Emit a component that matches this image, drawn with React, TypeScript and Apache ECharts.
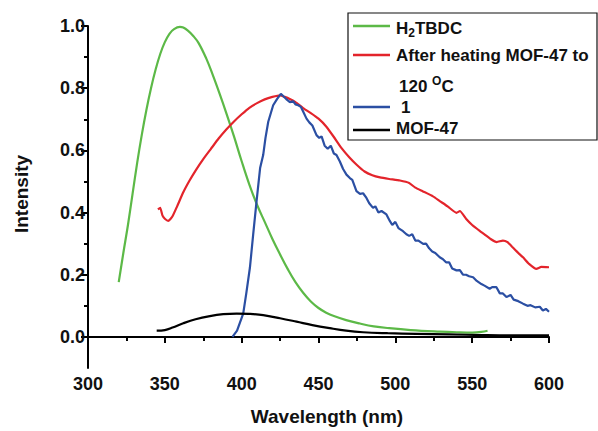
import React, { useEffect, useRef } from "react";
import * as echarts from "echarts";

const greenX = [320, 323, 326, 329, 332, 335, 338, 341, 344, 347, 350, 353, 356, 359.8, 362, 365, 368.5, 372, 377, 381, 385.8, 390, 395, 400, 405, 410, 415, 420, 425, 430, 435, 440, 445, 450, 455, 460, 468, 477, 486, 496, 510, 529, 540, 550, 556, 560];
const greenY = [0.176, 0.27, 0.36, 0.46, 0.56, 0.65, 0.73, 0.8, 0.86, 0.91, 0.948, 0.975, 0.99, 0.997, 0.995, 0.985, 0.968, 0.945, 0.895, 0.845, 0.78, 0.72, 0.645, 0.565, 0.49, 0.425, 0.37, 0.315, 0.265, 0.218, 0.176, 0.142, 0.114, 0.093, 0.078, 0.067, 0.054, 0.043, 0.034, 0.028, 0.022, 0.017, 0.015, 0.014, 0.016, 0.02];

const redX = [345.5, 347, 348.5, 350, 352.2, 355, 358, 362, 366, 370, 375, 380, 385, 390, 395, 400, 405, 410, 415, 420, 425, 428, 431, 435, 440, 445, 450, 455, 460, 465, 470, 475, 480, 485, 490, 496, 503, 509, 513, 518, 524.5, 528.9, 534, 539.8, 542, 546, 550, 554.9, 558, 562, 566, 570, 573, 576, 580, 583.1, 587, 591.8, 595, 600];
const redY = [0.41, 0.415, 0.39, 0.38, 0.373, 0.388, 0.42, 0.465, 0.502, 0.535, 0.572, 0.605, 0.638, 0.667, 0.693, 0.716, 0.737, 0.752, 0.764, 0.772, 0.777, 0.772, 0.766, 0.755, 0.736, 0.72, 0.702, 0.677, 0.643, 0.607, 0.578, 0.553, 0.532, 0.52, 0.513, 0.508, 0.503, 0.495, 0.48, 0.468, 0.452, 0.437, 0.42, 0.399, 0.405, 0.38, 0.36, 0.341, 0.33, 0.315, 0.305, 0.31, 0.305, 0.29, 0.27, 0.256, 0.235, 0.219, 0.225, 0.224];

const blueX = [394, 397, 401, 403, 405.4, 407.5, 409.7, 412, 414, 415.5, 417.3, 420.5, 423, 425.5, 427, 429, 431.4, 433.5, 435, 436.8, 438.5, 440, 442.2, 444, 446, 448.7, 450.5, 452, 454, 456, 458, 460, 461.7, 463.9, 466, 468.2, 470.4, 472, 474.7, 477, 479, 481.2, 483, 485.5, 487, 489, 491, 494.2, 496.4, 498, 500, 502, 505, 507.2, 509, 511, 513, 515, 518.1, 520, 522, 524, 526, 528.9, 531, 533, 535, 537, 539.8, 542, 544, 546, 548, 550.6, 553, 556, 558, 561.4, 563, 565.8, 568, 570, 572.3, 575, 577, 580, 583.1, 586, 588, 591, 594, 596, 598, 600];
const blueY = [0.0, 0.02, 0.075, 0.14, 0.224, 0.33, 0.437, 0.543, 0.585, 0.64, 0.692, 0.745, 0.765, 0.782, 0.775, 0.765, 0.755, 0.758, 0.748, 0.745, 0.74, 0.725, 0.702, 0.69, 0.68, 0.649, 0.64, 0.645, 0.615, 0.605, 0.615, 0.59, 0.585, 0.564, 0.54, 0.522, 0.511, 0.505, 0.469, 0.46, 0.462, 0.447, 0.43, 0.415, 0.42, 0.4, 0.405, 0.394, 0.373, 0.36, 0.37, 0.35, 0.34, 0.33, 0.325, 0.33, 0.31, 0.31, 0.299, 0.3, 0.285, 0.275, 0.27, 0.256, 0.25, 0.24, 0.24, 0.22, 0.214, 0.215, 0.2, 0.2, 0.195, 0.192, 0.18, 0.17, 0.165, 0.155, 0.16, 0.16, 0.14, 0.14, 0.128, 0.135, 0.12, 0.115, 0.107, 0.1, 0.102, 0.095, 0.097, 0.085, 0.09, 0.081];

const blackX = [344.7, 350, 355, 362, 370, 379.3, 388, 396.7, 405, 414, 425, 435.7, 446, 457.4, 468, 479, 495, 513.7, 535, 557, 580, 600];
const blackY = [0.02, 0.022, 0.03, 0.044, 0.057, 0.067, 0.073, 0.075, 0.074, 0.07, 0.06, 0.049, 0.038, 0.028, 0.02, 0.015, 0.012, 0.01, 0.008, 0.006, 0.005, 0.005];

const yLabelValues = [0, 0.2, 0.4, 0.6, 0.8, 1.0];
const yMinorValues = [0.1, 0.3, 0.5, 0.7, 0.9];

const seriesNames = ["H2TBDC", "After heating MOF-47 to 120 °C", "1", "MOF-47"];
const colors = ["#5cb947", "#e3242b", "#2b4fa3", "#000000"];
const smoothing = [0.4, 0.15, false, 0.4];

const zip = (xs: number[], ys: number[]) => xs.map((x, i) => [x, ys[i]]);

const FONT = "'Liberation Sans', Arial, sans-serif";

export default function App() {
  const ref = useRef<HTMLDivElement>(null);
  useEffect(() => {
    if (!ref.current) return;
    const chart = echarts.init(ref.current, undefined, { renderer: "svg" });
    const data = [zip(greenX, greenY), zip(redX, redY), zip(blueX, blueY), zip(blackX, blackY)];
    const legendRows = [
      { y: 26, color: colors[0] },
      { y: 55, color: colors[1] },
      { y: 107, color: colors[2] },
      { y: 130, color: colors[3] },
    ];
    const textStyleBase = { fontFamily: FONT, fontWeight: "bold" as const, fontSize: 17, fill: "#111" };
    chart.setOption({
      animation: false,
      backgroundColor: "#fff",
      grid: { left: 88, right: 49, top: 26, bottom: 63 },
      xAxis: {
        type: "value",
        min: 300,
        max: 600,
        interval: 50,
        axisLine: { lineStyle: { color: "#000", width: 2 } },
        axisTick: { length: 6, lineStyle: { color: "#000", width: 2 } },
        minorTick: { show: true, splitNumber: 2, length: 4, lineStyle: { color: "#000", width: 2 } },
        splitLine: { show: false },
        axisLabel: { color: "#111", fontFamily: FONT, fontWeight: "bold", fontSize: 18, margin: 7 },
      },
      yAxis: [
        {
          type: "value",
          min: -0.1,
          max: 1.0,
          axisLine: { show: true, lineStyle: { color: "#000", width: 2 } },
          axisTick: { show: true, length: 7, customValues: yLabelValues, lineStyle: { color: "#000", width: 2 } },
          splitLine: { show: false },
          axisLabel: {
            customValues: yLabelValues,
            color: "#111",
            fontFamily: FONT,
            fontWeight: "bold",
            fontSize: 18,
            margin: 3,
            formatter: (v: number) => v.toFixed(1),
          },
        },
        {
          type: "value",
          min: -0.1,
          max: 1.0,
          position: "left",
          axisLine: { show: false },
          axisTick: { show: true, length: 4, customValues: yMinorValues, lineStyle: { color: "#000", width: 2 } },
          axisLabel: { show: false },
          splitLine: { show: false },
        },
      ],
      series: data.map((d, i) => ({
        name: seriesNames[i],
        type: "line",
        data: d,
        showSymbol: false,
        smooth: smoothing[i],
        lineStyle: { color: colors[i], width: 2.2 },
        itemStyle: { color: colors[i] },
        z: 2,
      })),
      graphic: [
        {
          type: "text",
          x: 327,
          y: 416,
          style: { ...textStyleBase, fontSize: 19, text: "Wavelength (nm)", align: "center", verticalAlign: "middle" },
        },
        {
          type: "text",
          x: 21,
          y: 194,
          rotation: Math.PI / 2,
          style: { ...textStyleBase, fontSize: 19, text: "Intensity", align: "center", verticalAlign: "middle" },
        },
        {
          type: "rect",
          shape: { x: 348, y: 13, width: 249, height: 127 },
          style: { fill: "#fff", stroke: "#111", lineWidth: 1.2 },
          z: 10,
        },
        ...legendRows.map((r) => ({
          type: "line",
          shape: { x1: 353, y1: r.y, x2: 390, y2: r.y },
          style: { stroke: r.color, lineWidth: 2.5 },
          z: 11,
        })),
        {
          type: "text",
          x: 396,
          y: 28,
          z: 11,
          style: {
            text: "{n|H}{s|2}{n|TBDC}",
            verticalAlign: "middle",
            rich: {
              n: { ...textStyleBase },
              s: { ...textStyleBase, fontSize: 12, padding: [10, 0, 0, 0] },
            },
          },
        },
        {
          type: "text",
          x: 396,
          y: 55,
          z: 11,
          style: { ...textStyleBase, text: "After heating MOF-47 to", verticalAlign: "middle" },
        },
        {
          type: "text",
          x: 399,
          y: 86,
          z: 11,
          style: {
            text: "{n|120 }{s|O}{n|C}",
            verticalAlign: "middle",
            rich: {
              n: { ...textStyleBase },
              s: { ...textStyleBase, fontSize: 12, padding: [0, 0, 10, 0] },
            },
          },
        },
        {
          type: "text",
          x: 401,
          y: 107,
          z: 11,
          style: { ...textStyleBase, text: "1", verticalAlign: "middle" },
        },
        {
          type: "text",
          x: 396,
          y: 128,
          z: 11,
          style: { ...textStyleBase, text: "MOF-47", verticalAlign: "middle" },
        },
      ],
    });
    return () => chart.dispose();
  }, []);
  return <div ref={ref} style={{ position: "absolute", left: 0, top: 0, width: 598, height: 431 }} />;
}
